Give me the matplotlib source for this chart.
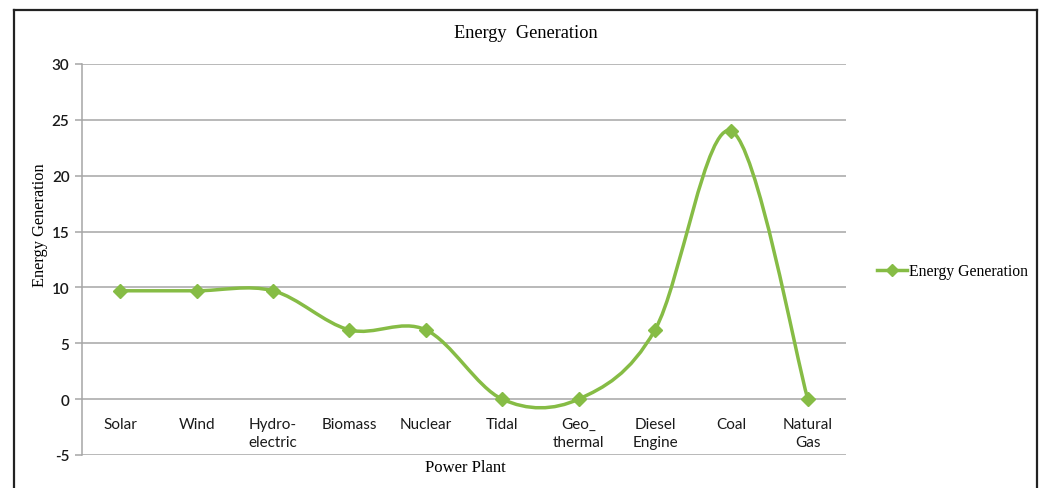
import numpy as np
import matplotlib
matplotlib.use("Agg")
import matplotlib.pyplot as plt
from matplotlib.path import Path
from matplotlib.patches import PathPatch
from matplotlib.lines import Line2D

# power plant categories and generation values
plants = ["Solar", "Wind", "Hydro-\nelectric", "Biomass", "Nuclear", "Tidal",
          "Geo_\nthermal", "Diesel\nEngine", "Coal", "Natural\nGas"]
generation = [9.7, 9.7, 9.7, 6.2, 6.2, 0, 0, 6.2, 24, 0]
y_ticks = [-5, 0, 5, 10, 15, 20, 25, 30]

green = "#86BC45"
grid_grey = "#A6A6A6"


def smooth_path(xs, ys):
    """Excel-style smoothed line: cubic bezier segments through each point."""
    pts = np.column_stack([xs, ys]).astype(float)
    padded = np.vstack([pts[0], pts, pts[-1]])
    verts = [pts[0]]
    codes = [Path.MOVETO]
    for i in range(len(pts) - 1):
        p_prev, p0, p1, p_next = padded[i], padded[i + 1], padded[i + 2], padded[i + 3]
        c1 = p0 + (p1 - p_prev) / 6.0
        c2 = p1 - (p_next - p0) / 6.0
        verts += [c1, c2, p1]
        codes += [Path.CURVE4] * 3
    return Path(verts, codes)


fig = plt.figure(figsize=(10.46, 4.89), dpi=100)
ax = fig.add_axes([82 / 1046, 1 - 456 / 489, 764 / 1046, 391 / 489])

x = np.arange(len(plants))
curve = PathPatch(smooth_path(x, generation), facecolor="none", edgecolor=green,
                  lw=2.5, capstyle="round", joinstyle="round", zorder=3)
ax.add_patch(curve)
ax.plot(x, generation, linestyle="none", marker="D", ms=7, color=green, zorder=4)

ax.set_xlim(-0.5, len(plants) - 0.5)
ax.set_ylim(-5, 30)
ax.set_yticks(y_ticks)
ax.set_yticklabels([str(v) for v in y_ticks], fontfamily="Lato", fontsize=11,
                   fontweight="semibold", color="#1a1a1a")
ax.yaxis.grid(True, color=grid_grey, lw=1.1)
ax.set_axisbelow(True)

# category labels sit under the zero line, where the horizontal axis crosses
ax.spines["bottom"].set_position(("data", 0))
ax.spines["bottom"].set_visible(False)
ax.spines["top"].set_visible(False)
ax.spines["right"].set_visible(False)
ax.spines["left"].set_color(grid_grey)
ax.spines["left"].set_linewidth(1.1)
ax.set_xticks(x)
ax.set_xticklabels(plants, fontfamily="Lato", fontsize=11, color="#1a1a1a",
                   linespacing=1.35)
ax.tick_params(axis="x", length=0, pad=13)
ax.tick_params(axis="y", length=5, color=grid_grey, width=1.1, pad=4)

fig.text(526 / 1046, 1 - 33 / 489, "Energy  Generation", ha="center", va="center",
         fontfamily="Liberation Serif", fontsize=13.2)
fig.text(465 / 1046, 1 - 468 / 489, "Power Plant", ha="center", va="center",
         fontfamily="Liberation Serif", fontsize=12)
fig.text(40 / 1046, 1 - 225 / 489, "Energy Generation", ha="center", va="center",
         rotation=90, fontfamily="Liberation Serif", fontsize=11.8)

handle = Line2D([], [], color=green, lw=2.5, marker="D", ms=6)
fig.legend(handles=[handle], labels=["Energy Generation"], loc="center left",
           bbox_to_anchor=(863 / 1046, 1 - 272 / 489), frameon=False,
           handlelength=1.9, handletextpad=0.15,
           prop={"family": "Liberation Serif", "size": 11.3})

# chart frame
for xs, ys in [((14, 14), (489, 11)), ((14, 1037), (11, 11)), ((1037, 1037), (11, 489))]:
    fig.add_artist(Line2D([v / 1046 for v in xs], [1 - v / 489 for v in ys],
                          color="#222222", lw=1.6))

fig.savefig("out.png", dpi=100)
